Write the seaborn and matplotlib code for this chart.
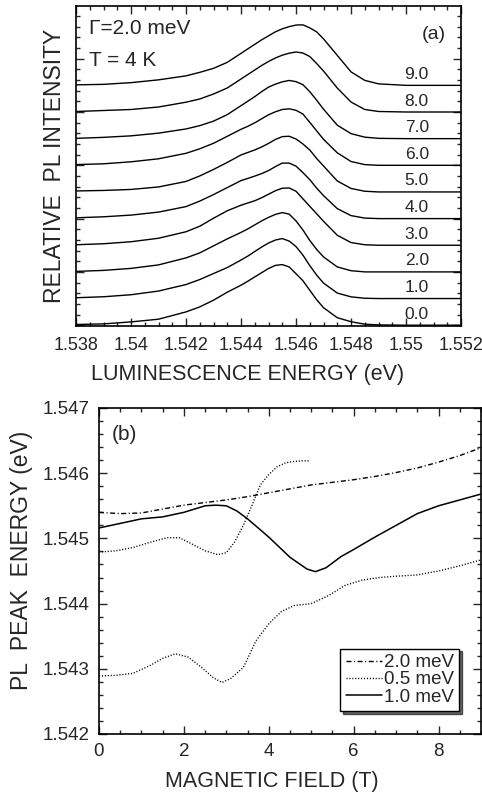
import numpy as np
import pandas as pd
import matplotlib
matplotlib.use("Agg")
import matplotlib.pyplot as plt
import seaborn as sns
from matplotlib.ticker import MultipleLocator, FormatStrFormatter
from matplotlib.lines import Line2D

# ---------------- data: panel (a) ----------------
energy = [1.538, 1.539, 1.540, 1.541, 1.542, 1.5425, 1.543, 1.5435,
          1.544, 1.54425, 1.5445, 1.54475, 1.545, 1.54525, 1.5455, 1.54575, 1.546,
          1.54625, 1.5465, 1.54675, 1.547,
          1.5475, 1.548, 1.5485, 1.549, 1.550, 1.552]
field_labels = ["0.0", "1.0", "2.0", "3.0", "4.0", "5.0", "6.0", "7.0", "8.0", "9.0"]
i00 = [0.7, 1.3, 3.3, 6.0, 13.3, 18.3, 25.0, 33.0, 40.0, 44.0, 48.3, 52.5, 56.7, 59.8, 60.6, 58.3, 51.5,
       44.5, 35.0, 25.5, 17.5, 7.5, 3.5, 1.0, 0.3, 0, 0]
i10 = [0.8, 1.8, 3.8, 7.5, 14.0, 19.0, 25.0, 31.0, 38.5, 42.5, 47.0, 51.5, 55.5, 58.5, 60.0, 57.5, 52.0,
       43.5, 33.0, 23.5, 15.5, 5.5, 1.7, 0.3, 0, 0, 0]
i20 = [0.5, 1.5, 3.5, 7.0, 14.0, 19.0, 26.0, 33.0, 39.5, 43.0, 47.0, 51.0, 54.5, 57.5, 59.3, 57.8, 51.0,
       42.0, 31.5, 22.5, 15.0, 5.0, 1.2, 0, 0, 0, 0]
i30 = [0.5, 1.5, 3.5, 7.0, 13.5, 19.0, 27.0, 34.5, 40.0, 42.3, 44.5, 47.5, 51.0, 54.5, 57.0, 57.3, 54.0,
       46.5, 39.0, 31.5, 24.0, 10.0, 2.7, 0.5, 0, 0, 0]
i40 = [0.8, 1.8, 3.5, 6.5, 12.0, 17.5, 24.0, 31.0, 38.0, 40.2, 42.5, 45.0, 48.0, 52.0, 55.5, 55.5, 52.5,
       46.0, 39.0, 30.5, 23.0, 10.0, 3.0, 0.5, 0, 0, 0]
i50 = [1.0, 1.5, 2.5, 5.0, 10.5, 16.0, 22.5, 29.5, 37.0, 39.5, 42.0, 45.0, 48.5, 52.5, 55.3, 55.7, 53.0,
       48.0, 42.0, 33.5, 26.0, 11.0, 3.5, 0.7, 0, 0, 0]
i60 = [0.7, 1.5, 3.5, 6.5, 12.0, 16.5, 22.0, 29.0, 36.0, 39.0, 42.5, 46.5, 50.5, 53.5, 55.8, 56.5, 55.0,
       51.3, 43.0, 34.5, 26.0, 12.5, 3.8, 0.7, 0, 0, 0]
i70 = [0.3, 1.3, 2.8, 5.5, 9.7, 13.0, 17.5, 24.0, 33.0, 37.5, 42.0, 47.0, 51.5, 54.5, 56.8, 58.2, 57.0,
       54.0, 47.0, 38.5, 29.5, 13.5, 5.0, 1.5, 0.3, 0, 0]
i80 = [0.5, 1.5, 2.5, 5.0, 9.8, 13.0, 18.0, 24.0, 33.0, 37.5, 42.0, 46.5, 50.5, 54.0, 56.8, 58.8, 60.0,
       59.0, 55.5, 48.5, 41.0, 24.0, 10.0, 2.5, 0.5, 0, 0]
i90 = [0.5, 1.0, 2.7, 5.5, 9.5, 13.0, 17.0, 23.0, 32.0, 36.5, 41.0, 45.5, 49.5, 53.5, 56.5, 58.7, 60.3,
       60.5, 57.5, 53.5, 46.5, 30.0, 13.5, 5.0, 1.5, 0, 0]
intensities = [i00, i10, i20, i30, i40, i50, i60, i70, i80, i90]

# ---------------- data: panel (b) ----------------
b20_field = [0, 0.5, 1, 1.5, 2, 2.5, 3, 3.5, 4, 4.5, 5, 5.5, 6, 6.5, 7, 7.5, 8, 8.5, 9]
b20_peak = [1.54540, 1.54538, 1.54539, 1.54545, 1.54551, 1.54555, 1.54559, 1.54564, 1.54570,
            1.54576, 1.54582, 1.54586, 1.54590, 1.54595, 1.54601, 1.54608, 1.54617, 1.54627, 1.54639]

b10_field = [0, 0.5, 1, 1.5, 2, 2.5, 2.75, 3, 3.25, 3.5, 4, 4.5, 4.9, 5.1, 5.35, 5.7, 6, 6.5, 7, 7.5, 8, 8.5, 9]
b10_peak = [1.54516, 1.54523, 1.54530, 1.54533, 1.54540, 1.54550, 1.54551, 1.54550, 1.54542, 1.54530,
            1.54502, 1.54471, 1.54453, 1.54449, 1.54455, 1.54472, 1.54483, 1.54502, 1.54520, 1.54538,
            1.54550, 1.54559, 1.54568]

b05_up_field = [0, 0.4, 0.8, 1.2, 1.6, 1.9, 2.2, 2.5, 2.8, 3.0, 3.2, 3.4, 3.6, 3.8, 4.0, 4.2, 4.4, 4.6, 4.8, 4.95]
b05_up_peak = [1.54479, 1.54481, 1.54486, 1.54494, 1.54501, 1.54501, 1.54491, 1.54481, 1.54475, 1.54478,
               1.54495, 1.54520, 1.54550, 1.54582, 1.54598, 1.54610, 1.54616, 1.54618, 1.54619, 1.54619]

b05_lo_field = [0, 0.4, 0.8, 1.2, 1.5, 1.8, 2.1, 2.4, 2.7, 2.9, 3.1, 3.4, 3.7, 4.0, 4.3, 4.6, 5.0,
                5.4, 5.8, 6.2, 6.6, 7.0, 7.5, 8.0, 8.5, 9.0]
b05_lo_peak = [1.54289, 1.54290, 1.54293, 1.54305, 1.54316, 1.54323, 1.54318, 1.54303, 1.54286, 1.54279,
               1.54285, 1.54302, 1.54343, 1.54369, 1.54388, 1.54397, 1.54400, 1.54412, 1.54428, 1.54436,
               1.54440, 1.54442, 1.54444, 1.54450, 1.54458, 1.54467]

# ---------------- style ----------------
sns.set_style("ticks")
plt.rcParams["font.family"] = ["Liberation Sans", "DejaVu Sans"]
plt.rcParams["xtick.direction"] = "in"
plt.rcParams["ytick.direction"] = "in"

fig = plt.figure(figsize=(4.82, 7.93), dpi=100)
ax1 = fig.add_axes([76 / 482, 1 - 326 / 793, (461 - 76) / 482, (326 - 6) / 793])
ax2 = fig.add_axes([99 / 482, 1 - 734 / 793, (481 - 99) / 482, (734 - 408) / 793])

# ---------------- panel (a) ----------------
step = 26.65
rows = []
for k, (lab, vals) in enumerate(zip(field_labels, intensities)):
    for e, v in zip(energy, vals):
        rows.append({"energy": e, "intensity": v, "field": lab, "shifted": v + k * step})
df_top = pd.DataFrame(rows)
sns.lineplot(data=df_top, x="energy", y="shifted", units="field", estimator=None,
             color="black", lw=1.0, sort=False, legend=False, ax=ax1)

for k, lab in enumerate(field_labels):
    ax1.text(1.55039, k * step + 6.5, lab, ha="center", va="baseline", fontsize=12.5)

ax1.text(1.53847, 291.0, "Γ=2.0 meV", ha="left", va="baseline", fontsize=15)
ax1.text(1.53847, 259.5, "T = 4 K", ha="left", va="baseline", fontsize=15)
ax1.text(1.55058, 286.0, "(a)", ha="left", va="baseline", fontsize=14)

ax1.set_xlim(1.538, 1.552)
ax1.set_ylim(-0.8, 319.2)
ax1.xaxis.set_major_locator(MultipleLocator(0.002))
ax1.xaxis.set_minor_locator(MultipleLocator(0.0005))
ax1.xaxis.set_major_formatter(FormatStrFormatter("%g"))
ax1.yaxis.set_major_locator(MultipleLocator(2 * step))
ax1.yaxis.set_minor_locator(MultipleLocator(0.4 * step))
ax1.tick_params(axis="both", which="both", direction="in", top=True, right=True,
                labelleft=False, labelsize=13, width=1.0)
ax1.tick_params(axis="x", which="major", pad=8)
ax1.tick_params(which="major", length=6)
ax1.tick_params(which="minor", length=3)
ax1.set_xlabel("LUMINESCENCE ENERGY (eV)", fontsize=15.5, labelpad=7.3)
ax1.set_ylabel("RELATIVE  PL INTENSITY", fontsize=16.5, labelpad=7.5)
ax1.xaxis.label.set_x(0.4455)

# ---------------- panel (b) ----------------
df20 = pd.DataFrame({"field": b20_field, "peak": b20_peak})
df10 = pd.DataFrame({"field": b10_field, "peak": b10_peak})
df05 = pd.concat([
    pd.DataFrame({"field": b05_up_field, "peak": b05_up_peak, "branch": "upper"}),
    pd.DataFrame({"field": b05_lo_field, "peak": b05_lo_peak, "branch": "lower"}),
])

ls20 = (0, (3.6, 1.8, 0.8, 1.8))
ls05 = (0, (0.8, 1.3))
sns.lineplot(data=df20, x="field", y="peak", color="black", lw=1.0, linestyle=ls20,
             estimator=None, legend=False, ax=ax2)
sns.lineplot(data=df05, x="field", y="peak", units="branch", estimator=None, color="black",
             lw=1.0, linestyle=ls05, legend=False, ax=ax2)
sns.lineplot(data=df10, x="field", y="peak", color="black", lw=1.1, linestyle="-",
             estimator=None, legend=False, ax=ax2)

ax2.text(0.3, 1.54651, "(b)", ha="left", va="baseline", fontsize=15)

ax2.set_xlim(0, 9)
ax2.set_ylim(1.542, 1.547)
ax2.xaxis.set_major_locator(MultipleLocator(2))
ax2.xaxis.set_minor_locator(MultipleLocator(0.5))
ax2.yaxis.set_major_locator(MultipleLocator(0.001))
ax2.yaxis.set_minor_locator(MultipleLocator(0.0002))
ax2.yaxis.set_major_formatter(FormatStrFormatter("%g"))
ax2.tick_params(axis="both", which="both", direction="in", top=True, right=True,
                labelsize=13.5, width=1.0, pad=6.5)
ax2.tick_params(which="major", length=6)
ax2.tick_params(which="minor", length=3)
ax2.set_xlabel("MAGNETIC FIELD (T)", fontsize=15.5, labelpad=8)
ax2.set_ylabel("PL  PEAK  ENERGY (eV)", fontsize=16.5, labelpad=7)
ax2.xaxis.label.set_x(0.4516)
ax2.yaxis.label.set_y(0.534)

handles = [Line2D([], [], color="black", lw=1.0, linestyle=ls20),
           Line2D([], [], color="black", lw=1.0, linestyle=ls05),
           Line2D([], [], color="black", lw=1.1, linestyle="-")]
leg = ax2.legend(handles, ["2.0 meV", "0.5 meV", "1.0 meV"], loc="lower right",
                 bbox_to_anchor=(0.943, 0.07), borderaxespad=0, fontsize=13.5,
                 handlelength=1.9, handletextpad=0.1, labelspacing=0.0, borderpad=0.3,
                 frameon=True, fancybox=False, edgecolor="black", framealpha=1,
                 shadow={"color": "black", "alpha": 0.6})
leg.get_frame().set_linewidth(1.0)

for ax in (ax1, ax2):
    for s in ax.spines.values():
        s.set_linewidth(1.2)
        s.set_visible(True)
        s.set_color("black")

fig.savefig("out.png", dpi=100)
